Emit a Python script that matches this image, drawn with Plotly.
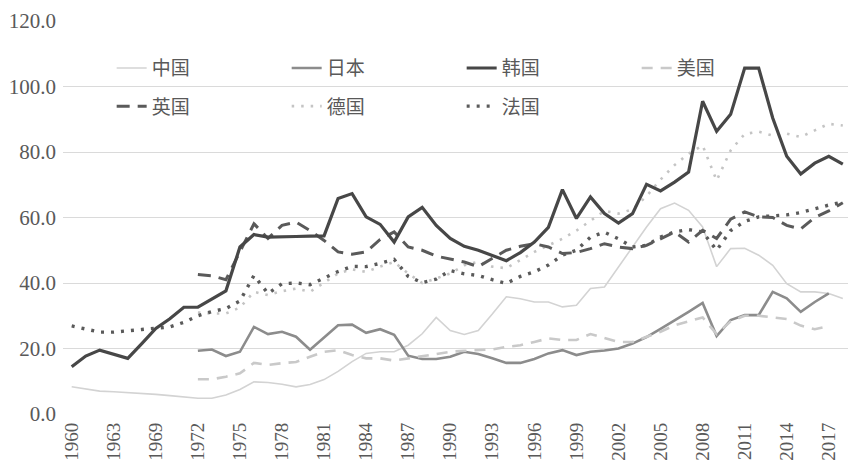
import plotly.graph_objects as go

years = ['1960', '1961', '1962', '1963', '1967', '1968', '1969', '1970', '1971', '1972',
         '1973', '1974', '1975', '1976', '1977', '1978', '1979', '1980', '1981', '1982',
         '1983', '1984', '1985', '1986', '1987', '1988', '1989', '1990', '1991', '1992',
         '1993', '1994', '1995', '1996', '1997', '1998', '1999', '2000', '2001', '2002',
         '2003', '2004', '2005', '2006', '2007', '2008', '2009', '2010', '2011', '2012',
         '2013', '2014', '2015', '2016', '2017', '2018']

china = [8.3, 7.6, 7.0, 6.8, 6.6, 6.3, 6.0, 5.6, 5.2, 4.8,
         4.8, 5.8, 7.5, 9.8, 9.6, 9.1, 8.3, 9.0, 10.5, 13.0,
         16.0, 18.5, 19.0, 19.0, 21.0, 24.5, 29.5, 25.5, 24.3, 25.5,
         30.5, 35.8, 35.2, 34.2, 34.2, 32.7, 33.2, 38.3, 38.8, 44.9,
         51.0, 57.1, 62.7, 64.4, 62.2, 57.1, 45.0, 50.5, 50.6, 48.5,
         45.4, 39.8, 37.3, 37.3, 36.8, 35.3]

japan = [None, None, None, None, None, None, None, None, None, 19.3,
         19.7, 17.7, 19.0, 26.6, 24.4, 25.1, 23.6, 19.6, 23.3, 27.1,
         27.3, 24.8, 25.9, 24.2, 17.8, 16.8, 16.8, 17.5, 19.0, 18.3,
         17.0, 15.6, 15.6, 16.8, 18.5, 19.5, 18.0, 19.0, 19.4, 20.0,
         21.5, 23.5, 26.0, 28.5, 31.2, 33.9, 23.8, 28.7, 30.2, 30.2,
         37.3, 35.3, 31.2, 34.2, 36.8, None]

korea = [14.4, 17.7, 19.5, 18.3, 17.0, 21.5, 26.1, 29.1, 32.6, 32.6,
         35.2, 37.6, 51.0, 54.8, 54.0, 54.2, 54.2, 54.3, 54.4, 65.8,
         67.3, 60.2, 57.9, 52.5, 60.2, 63.1, 57.6, 53.6, 51.2, 50.0,
         48.5, 46.8, 49.3, 52.5, 57.0, 68.5, 59.7, 66.3, 61.2, 58.3,
         61.2, 70.1, 68.1, 70.8, 73.9, 95.5, 86.3, 91.5, 105.6, 105.6,
         90.4, 78.7, 73.3, 76.6, 78.7, 76.3]

usa = [None, None, None, None, None, None, None, None, None, 10.6,
       10.6, 11.4, 12.4, 15.6, 15.0, 15.5, 15.9, 17.5, 19.0, 19.5,
       18.0, 17.0, 17.0, 16.3, 17.0, 17.7, 18.3, 19.0, 19.3, 19.5,
       19.7, 20.5, 21.0, 22.0, 23.1, 22.6, 22.6, 24.4, 23.1, 22.0,
       22.0, 23.5, 25.1, 27.1, 28.3, 29.5, 24.4, 28.3, 30.0, 30.0,
       29.5, 29.0, 27.0, 25.9, 26.8, None]

uk = [None, None, None, None, None, None, None, None, None, 42.6,
      42.2, 41.0, 49.5, 58.1, 53.6, 57.6, 58.6, 56.0, 53.0, 49.5,
      48.8, 49.5, 53.3, 55.6, 51.0, 50.0, 48.2, 47.2, 46.4, 45.0,
      47.5, 50.0, 51.2, 52.0, 51.0, 49.0, 49.3, 50.5, 52.0, 51.0,
      50.5, 51.5, 53.5, 55.6, 52.5, 56.1, 53.6, 59.5, 61.7, 60.2,
      60.0, 57.6, 56.5, 60.0, 62.0, 64.5]

germany = [None, None, None, None, None, None, None, None, None, 31.0,
           30.7, 30.7, 32.5, 37.3, 36.3, 37.5, 38.3, 37.3, 40.0, 42.9,
           44.2, 43.4, 45.0, 46.4, 42.9, 40.0, 41.4, 42.9, 45.4, 46.5,
           45.0, 44.5, 47.0, 49.5, 51.5, 53.5, 56.0, 59.0, 62.0, 61.2,
           62.5, 66.5, 71.6, 76.0, 79.5, 82.0, 71.3, 80.5, 85.5, 86.2,
           85.0, 85.6, 84.6, 86.6, 88.6, 88.1]

france = [26.9, 26.0, 25.0, 25.0, 25.5, 25.8, 26.2, 26.6, 28.0, 30.0,
          31.3, 32.2, 34.5, 42.3, 36.8, 39.8, 40.0, 39.5, 41.5, 43.5,
          45.1, 45.0, 46.0, 47.2, 42.0, 40.1, 41.2, 43.8, 42.8, 42.3,
          41.0, 39.9, 42.0, 43.4, 45.5, 48.5, 50.0, 54.0, 55.5, 53.5,
          51.0, 51.5, 54.0, 55.6, 56.3, 55.6, 50.0, 56.0, 58.8, 60.2,
          60.5, 60.8, 61.5, 62.7, 63.8, 64.7]

y_ticks = [0, 20, 40, 60, 80, 100, 120]

series = [
    # name, values, color, width, dash, legend, rank
    ('中国', china, '#d3d3d3', 1.6, 'solid', 'legend', 1),
    ('日本', japan, '#8c8c8c', 2.6, 'solid', 'legend', 2),
    ('美国', usa, '#c9c9c9', 2.6, '11px,8px', 'legend', 4),
    ('德国', germany, '#c4c4c4', 2.6, '2.5px,7px', 'legend2', 6),
    ('法国', france, '#5a5a5a', 3.4, '3px,7px', 'legend2', 7),
    ('英国', uk, '#5a5a5a', 3.0, '13px,8px', 'legend2', 5),
    ('韩国', korea, '#474747', 3.2, 'solid', 'legend', 3),
]

fig = go.Figure()
for name, vals, color, width, dash, leg, rank in series:
    fig.add_trace(go.Scatter(
        x=years, y=vals, name=name, mode='lines',
        line=dict(color=color, width=width, dash=dash),
        legend=leg, legendrank=rank, connectgaps=False,
        hoverinfo='skip'))

text_color = '#595959'
serif = 'Liberation Serif, Noto Sans CJK SC, serif'

fig.update_layout(
    width=848, height=469,
    margin=dict(l=63, r=0, t=21, b=55),
    paper_bgcolor='white', plot_bgcolor='white',
    font=dict(family=serif, color=text_color, size=18),
    hovermode=False,
    xaxis=dict(
        type='category', categoryorder='array', categoryarray=years,
        range=[-0.62, 55.37],
        tickmode='array', tickvals=years[::3], ticktext=years[::3],
        tickangle=-90, showgrid=False, showline=False, zeroline=False,
        ticks='', ticklabelstandoff=4,
        tickfont=dict(family=serif, size=19, color=text_color)),
    yaxis=dict(
        range=[0, 120], tickmode='array', tickvals=y_ticks,
        tickformat='.1f', showgrid=True, gridcolor='#dadada', gridwidth=1,
        zeroline=False, showline=False, ticks='', ticklabelstandoff=6,
        tickfont=dict(family=serif, size=21, color=text_color)),
    legend=dict(
        orientation='h', x=0.062, y=0.88, xanchor='left', yanchor='middle',
        entrywidth=130, entrywidthmode='pixels', bgcolor='rgba(0,0,0,0)',
        font=dict(family=serif, size=19, color=text_color)),
    legend2=dict(
        orientation='h', x=0.062, y=0.783, xanchor='left', yanchor='middle',
        entrywidth=130, entrywidthmode='pixels', bgcolor='rgba(0,0,0,0)',
        font=dict(family=serif, size=19, color=text_color)),
    showlegend=True,
)

fig.write_html(
    'out.html',
    config={'displayModeBar': False, 'staticPlot': True},
    post_script="document.body.style.margin='0';document.body.style.overflow='hidden';")
